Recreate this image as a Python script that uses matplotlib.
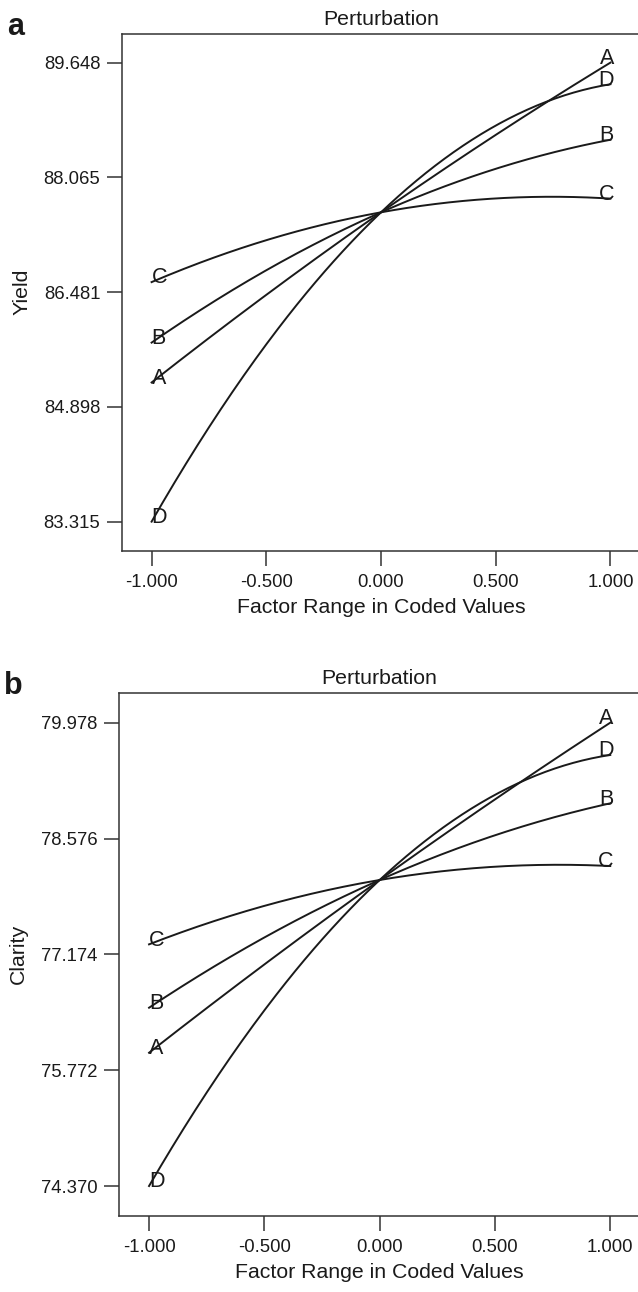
import numpy as np
import matplotlib
matplotlib.use("Agg")
import matplotlib.pyplot as plt

plt.rcParams["font.family"] = ["Liberation Sans", "DejaVu Sans"]

# coded factor levels where the curves were read
levels = [-1.0, 0.0, 1.0]
factors = ["A", "B", "C", "D"]

# panel a: Yield at coded -1, 0, +1
yield_A = [85.235, 87.583, 89.648]
yield_B = [85.785, 87.583, 88.584]
yield_C = [86.620, 87.583, 87.772]
yield_D = [83.315, 87.583, 89.350]
yield_ticks = [83.315, 84.898, 86.481, 88.065, 89.648]

# panel b: Clarity at coded -1, 0, +1
clarity_A = [75.983, 78.074, 79.978]
clarity_B = [76.528, 78.074, 79.002]
clarity_C = [77.295, 78.074, 78.243]
clarity_D = [74.370, 78.074, 79.587]
clarity_ticks = [74.370, 75.772, 77.174, 78.576, 79.978]

x_ticks = [-1.0, -0.5, 0.0, 0.5, 1.0]

W, H = 638, 1292
fig = plt.figure(figsize=(W / 100, H / 100), dpi=100)

ink = "#1a1a1a"
spine_c = "#333333"


def draw_panel(ax, curves, yticks, ylabel, ylim, tag):
    xs = np.linspace(-1, 1, 200)
    for name, vals in zip(factors, curves):
        coef = np.polyfit(levels, vals, 2)
        ax.plot(xs, np.polyval(coef, xs), color=ink, lw=1.4)
        # letters sit on the curve ends
        ax.annotate(name, (levels[0], vals[0]), xytext=(0, -1), textcoords="offset points",
                    ha="left", va="baseline", fontsize=15.5, color=ink)
        ax.annotate(name, (levels[-1], vals[-1]), xytext=(2.5, -1), textcoords="offset points",
                    ha="right", va="baseline", fontsize=15.5, color=ink)

    ax.set_xlim(-1.129, 1.129)
    ax.set_ylim(*ylim)
    ax.set_xticks(x_ticks)
    ax.set_xticklabels([f"{v:.3f}" for v in x_ticks])
    ax.set_yticks(yticks)
    ax.set_yticklabels([f"{v:.3f}" for v in yticks])
    ax.tick_params(direction="out", length=10.5, width=1.1, color=spine_c,
                   labelsize=13.3, labelcolor=ink)
    ax.tick_params(axis="y", pad=5)
    ax.tick_params(axis="x", pad=6)
    for side in ["left", "top", "bottom"]:
        ax.spines[side].set_color(spine_c)
        ax.spines[side].set_linewidth(1.1)
    ax.spines["right"].set_visible(False)

    ax.set_title("Perturbation", fontsize=15.3, color=ink, pad=6)
    ax.set_xlabel("Factor Range in Coded Values", fontsize=15.3, color=ink, labelpad=5)
    ax.set_ylabel(ylabel, fontsize=15.3, color=ink)
    ax.yaxis.set_label_coords(-0.175, 0.5)
    ax.text(-0.222, 0.998, tag, transform=ax.transAxes, fontsize=22, fontweight="bold",
            color=ink, ha="left", va="baseline")


ax_a = fig.add_axes([122 / W, 1 - 551 / H, (640 - 122) / W, (551 - 33.5) / H])
draw_panel(ax_a, [yield_A, yield_B, yield_C, yield_D], yield_ticks, "Yield",
           (82.91, 90.05), "a")

ax_b = fig.add_axes([119.3 / W, 1 - 1216 / H, (640 - 119.3) / W, (1216 - 692.7) / H])
draw_panel(ax_b, [clarity_A, clarity_B, clarity_C, clarity_D], clarity_ticks, "Clarity",
           (74.007, 80.341), "b")

fig.savefig("out.png", dpi=100)
